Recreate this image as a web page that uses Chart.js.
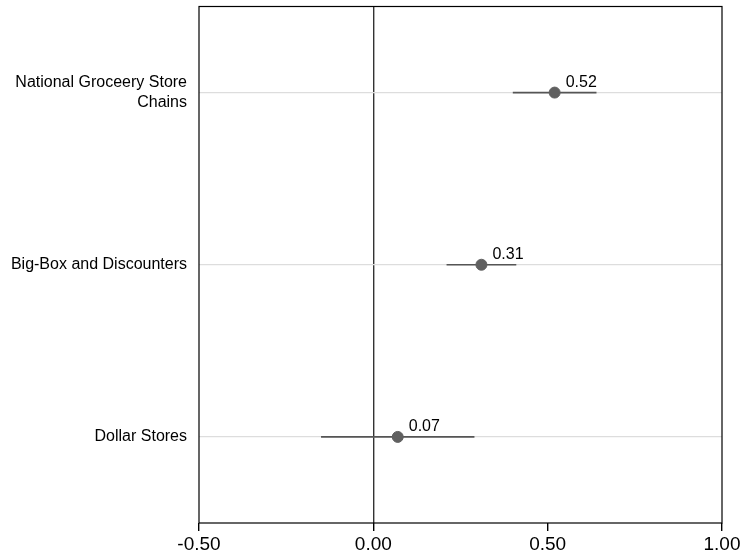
<!DOCTYPE html>
<html>
<head>
<meta charset="utf-8">
<script src="https://cdn.jsdelivr.net/npm/chart.js@4"></script>
<style>
  html, body { margin: 0; padding: 0; background: #fff; }
  #wrap { width: 745px; height: 558px; }
</style>
</head>
<body>
<div id="wrap"><canvas id="result_chart"></canvas></div>
<script>
// data
const categories = [["National Groceery Store", "Chains"], "Big-Box and Discounters", "Dollar Stores"];
const estimates = [0.52, 0.31, 0.07];
const lowerBounds = [0.40, 0.21, -0.15];
const upperBounds = [0.64, 0.41, 0.29];
const xTicks = [-0.5, 0, 0.5, 1.0];

const catKeys = ["National", "BigBox", "Dollar"];

const FONT = "'Liberation Sans', Arial, sans-serif";

// error bars, one line dataset per category
const errorSets = catKeys.map((k, i) => ({
    type: 'line',
    data: [{ x: lowerBounds[i], y: k }, { x: upperBounds[i], y: k }],
    borderColor: '#555555',
    borderWidth: 1.6,
    pointRadius: 0,
    showLine: true,
    fill: false,
    order: 2
}));

const pointSet = {
    type: 'scatter',
    data: catKeys.map((k, i) => ({ x: estimates[i], y: k })),
    backgroundColor: '#606060',
    borderColor: '#606060',
    pointRadius: 5.5,
    order: 1
};

// box around plot + value labels
const boxAndLabels = {
    id: 'boxAndLabels',
    afterDatasetsDraw(chart) {
        const ctx = chart.ctx;
        const a = chart.chartArea;
        ctx.save();
        ctx.strokeStyle = '#000';
        ctx.lineWidth = 1.2;
        ctx.strokeRect(a.left, a.top, a.right - a.left, a.bottom - a.top);

        const meta = chart.getDatasetMeta(chart.data.datasets.length - 1);
        ctx.fillStyle = '#000';
        ctx.font = '16px ' + FONT;
        ctx.textAlign = 'left';
        ctx.textBaseline = 'alphabetic';
        meta.data.forEach((pt, i) => {
            ctx.fillText(estimates[i].toFixed(2), pt.x + 11, pt.y - 6);
        });
        ctx.restore();
    }
};

const config = {
    type: 'scatter',
    data: { datasets: [...errorSets, pointSet] },
    options: {
        responsive: true,
        maintainAspectRatio: false,
        animation: false,
        layout: { padding: { top: 5, right: 23, left: 0, bottom: 0 } },
        plugins: {
            legend: { display: false },
            tooltip: { enabled: false }
        },
        scales: {
            x: {
                type: 'linear',
                min: -0.5,
                max: 1.0,
                afterBuildTicks: (scale) => { scale.ticks = xTicks.map(v => ({ value: v })); },
                afterFit: (scale) => { scale.height = 35; },
                ticks: {
                    color: '#000',
                    font: { family: FONT, size: 19 },
                    padding: 2,
                    maxRotation: 0,
                    callback: (v) => Number(v).toFixed(2)
                },
                grid: {
                    color: (c) => (c.tick && c.tick.value === 0) ? '#333333' : 'rgba(0,0,0,0)',
                    tickColor: '#000',
                    tickLength: 8,
                    lineWidth: 1.4
                },
                border: { display: false }
            },
            y: {
                type: 'category',
                labels: catKeys,
                offset: true,
                afterFit: (scale) => {
                    scale.width = 199;
                    scale.paddingTop = 0;
                    scale.paddingBottom = 0;
                },
                ticks: {
                    color: '#000',
                    font: { family: FONT, size: 16 },
                    padding: 12,
                    callback: (v, i) => categories[i]
                },
                grid: {
                    offset: false,
                    color: '#dddddd',
                    lineWidth: 1.3,
                    drawTicks: false
                },
                border: { display: false }
            }
        }
    },
    plugins: [boxAndLabels]
};

const render_chart = () => {
    let context = document.getElementById("result_chart");
    new Chart(context, config);
};
render_chart();
</script>
</body>
</html>
